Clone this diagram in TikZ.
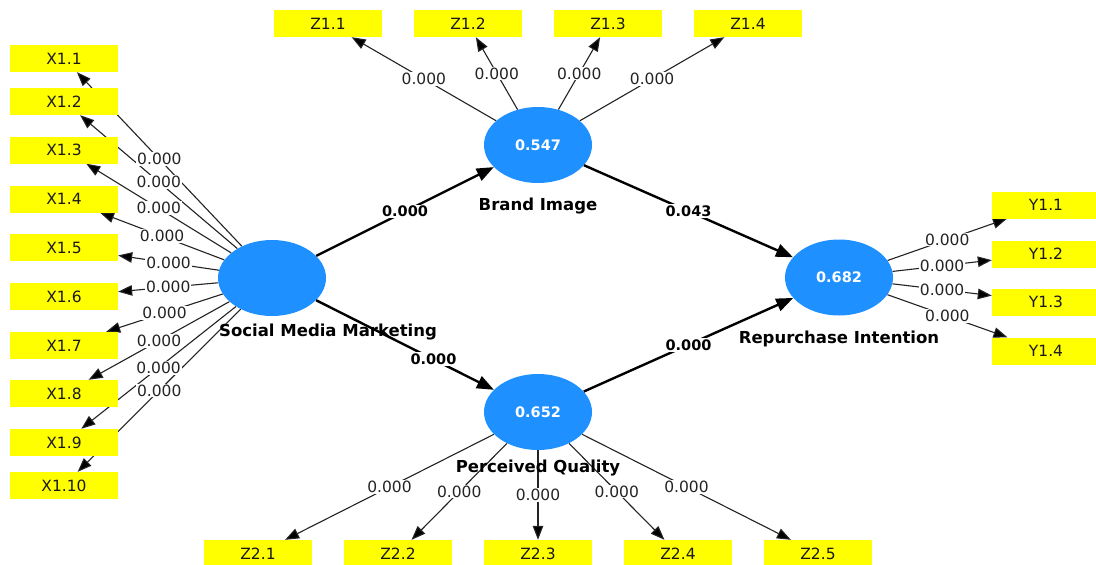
\documentclass[tikz,border=0pt]{standalone}
\usepackage{fontspec}
\setmainfont{DejaVu Sans}
\usetikzlibrary{shapes.geometric,arrows.meta}
\definecolor{lvblue}{RGB}{30,144,255}
\definecolor{indyellow}{RGB}{255,255,0}
\definecolor{loadgray}{RGB}{35,35,35}
\pgfdeclarelayer{paper}
\pgfdeclarelayer{lines}
\pgfsetlayers{paper,lines,main}

\begin{document}
\begin{tikzpicture}[x=1pt, y=-1pt,
    lv/.style={ellipse, fill=lvblue, minimum width=108pt, minimum height=76pt, inner sep=0pt, text=white, font=\bfseries\fontsize{14.5}{17}\selectfont},
    lvname/.style={inner sep=0pt, anchor=base, font=\bfseries\fontsize{16.5}{19}\selectfont},
    ind/.style={fill=indyellow, minimum width=108pt, minimum height=27pt, inner sep=0pt, text=black!90, font=\fontsize{15.5}{18}\selectfont},
    loading/.style={draw=loadgray, line width=1.1pt, -{Triangle[length=14pt,width=10.5pt,fill=black]}},
    pathcoef/.style={line width=2.4pt, -{Triangle[length=17pt,width=13pt]}},
    lval/.style={fill=white, inner sep=1pt, text=loadgray, font=\fontsize{15.5}{18}\selectfont},
    pval/.style={fill=white, inner sep=1.5pt, font=\bfseries\fontsize{14.5}{17}\selectfont}]

    \begin{pgfonlayer}{paper}
        \fill[white] (0,0) rectangle (1096,565);
    \end{pgfonlayer}
    \useasboundingbox (0,0) rectangle (1096,565);

    % latent variables
    \node[lv] (smm) at (272,278) {};
    \node[lv] (bi) at (538,145) {0.547};
    \node[lv] (pq) at (538,412) {0.652};
    \node[lv] (ri) at (839,277.5) {0.682};
    \node[lvname, anchor=base west] (smmname) at (219,336.5) {Social Media Marketing};
    \node[lvname] (biname) at (538,210.5) {Brand Image};
    \node[lvname] (pqname) at (538,472) {Perceived Quality};
    \node[lvname] (riname) at (839,343) {Repurchase Intention};

    % indicators
    \foreach \n/\y in {1/58.5,2/101.5,3/150,4/199,5/247.5,6/296.5,7/345.5,8/393.5,9/442.5,10/485.5}
        \node[ind] (x\n) at (64,\y) {X1.\n};
    \foreach \n/\x in {1/328,2/468,3/608,4/748}
        \node[ind] (za\n) at (\x,23.5) {Z1.\n};
    \foreach \n/\x in {1/258,2/398,3/538,4/678,5/818}
        \node[ind] (zb\n) at (\x,553.5) {Z2.\n};
    \foreach \n/\y in {1/205,2/254,3/302,4/351}
        \node[ind] (y\n) at (1046,\y) {Y1.\n};

    % outer loadings
    \begin{pgfonlayer}{lines}
        \foreach \n in {1,...,10} \draw[loading] (smm) -- (x\n);
        \foreach \n in {1,...,4} \draw[loading] (bi) -- (za\n);
        \foreach \n in {1,...,5} \draw[loading] (pq) -- (zb\n);
        \foreach \n in {1,...,4} \draw[loading] (ri) -- (y\n);
    \end{pgfonlayer}
    \foreach \n in {1,...,10} \path (smm) -- node[lval] {0.000} (x\n);
    \foreach \n in {1,...,4} \path (bi) -- node[lval] {0.000} (za\n);
    \foreach \n in {1,...,5} \path (pq) -- node[lval] {0.000} (zb\n);
    \foreach \n in {1,...,4} \path (ri) -- node[lval] {0.000} (y\n);

    % path coefficients
    \draw[pathcoef] (smm) -- node[pval] {0.000} (bi);
    \draw[pathcoef] (smm) -- node[pval, pos=0.66] {0.000} (pq);
    \draw[pathcoef] (bi) -- node[pval] {0.043} (ri);
    \draw[pathcoef] (pq) -- node[pval] {0.000} (ri);
\end{tikzpicture}
\end{document}
